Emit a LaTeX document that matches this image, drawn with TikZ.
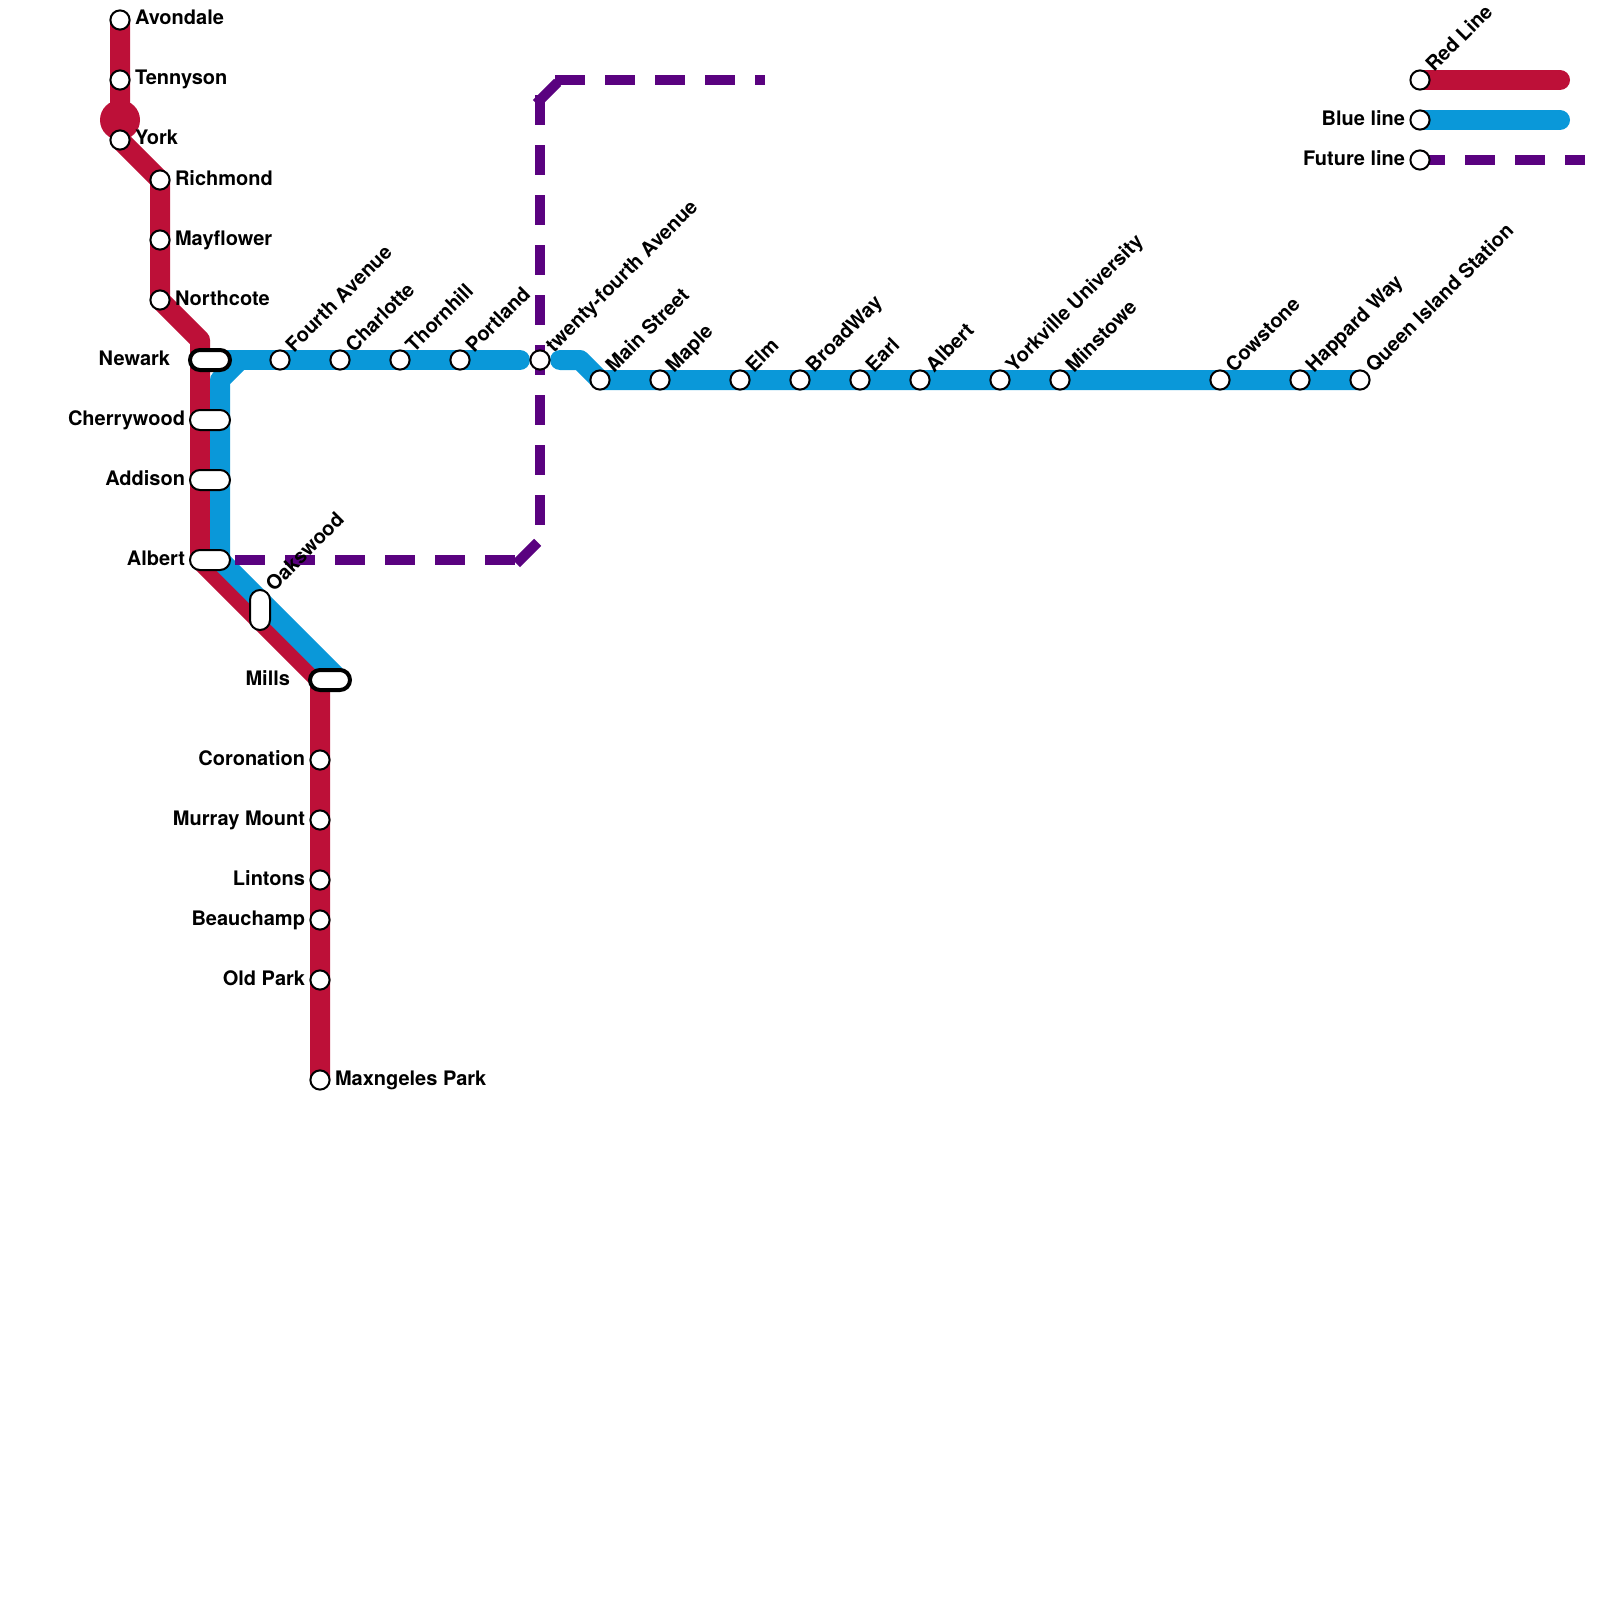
\documentclass[tikz,border=0pt]{standalone}
\usepackage{fontspec}
\setmainfont{TeX Gyre Heros}
\usetikzlibrary{backgrounds}
\definecolor{redline}{HTML}{BD1038}
\definecolor{blueline}{HTML}{0A98D9}
\definecolor{futureline}{HTML}{5A0280}
\tikzset{
  x=1pt,y=-1pt,
  stn/.style={circle,draw=black,fill=white,line width=2pt,minimum size=19.2pt,inner sep=0pt},
  hub/.style={rectangle,rounded corners=10pt,draw=black,fill=white,line width=2pt,minimum width=40pt,minimum height=20pt,inner sep=0pt},
  hubthick/.style={hub,line width=4pt},
  hubv/.style={rectangle,rounded corners=10pt,draw=black,fill=white,line width=2pt,minimum width=20pt,minimum height=40pt,inner sep=0pt},
  lbl/.style={inner sep=0pt,outer sep=0pt,font=\fontsize{20pt}{21pt}\selectfont\bfseries,text=black},
  lr/.style={lbl,anchor=base west},
  ll/.style={lbl,anchor=base east},
  ld/.style={lbl,anchor=base west,rotate=45},
  redl/.style={draw=redline,line width=20pt,line join=round},
  bluel/.style={draw=blueline,line width=20pt,line join=round},
  futl/.style={draw=futureline,line width=10pt,line cap=rect,dash pattern=on 20pt off 30pt},
}
\begin{document}
\begin{tikzpicture}
\useasboundingbox (0,0) rectangle (1600,1600);
% stations
\node[stn] (avondale) at (120,20) {};
\node[lr] (tavondale) at (135,25) {Avondale};
\node[stn] (tennyson) at (120,80) {};
\node[lr] (ttennyson) at (135,85) {Tennyson};
\node[stn] (york) at (120,140) {};
\node[lr] (tyork) at (135,145) {York};
\node[stn] (richmond) at (160,180) {};
\node[lr] (trichmond) at (175,185) {Richmond};
\node[stn] (mayflower) at (160,240) {};
\node[lr] (tmayflower) at (175,245) {Mayflower};
\node[stn] (northcote) at (160,300) {};
\node[lr] (tnorthcote) at (175,305) {Northcote};
\node[hubthick] (newark) at (210,360) {};
\node[ll] (tnewark) at (170,365) {Newark};
\node[hub] (cherrywood) at (210,420) {};
\node[ll] (tcherrywood) at (185,425) {Cherrywood};
\node[hub] (addison) at (210,480) {};
\node[ll] (taddison) at (185,485) {Addison};
\node[hub] (albertw) at (210,560) {};
\node[ll] (talbertw) at (185,565) {Albert};
\node[hubv] (oakswood) at (260,610) {};
\node[ld] (toakswood) at (274,592) {Oakswood};
\node[hubthick] (mills) at (330,680) {};
\node[ll] (tmills) at (290,685) {Mills};
\node[stn] (coronation) at (320,760) {};
\node[ll] (tcoronation) at (305,765) {Coronation};
\node[stn] (murray) at (320,820) {};
\node[ll] (tmurray) at (305,825) {Murray Mount};
\node[stn] (lintons) at (320,880) {};
\node[ll] (tlintons) at (305,885) {Lintons};
\node[stn] (beauchamp) at (320,920) {};
\node[ll] (tbeauchamp) at (305,925) {Beauchamp};
\node[stn] (oldpark) at (320,980) {};
\node[ll] (toldpark) at (305,985) {Old Park};
\node[stn] (maxngeles) at (320,1080) {};
\node[lr] (tmaxngeles) at (335,1085) {Maxngeles Park};
\foreach \n/\x/\y/\t in {fourth/280/360/Fourth Avenue,charlotte/340/360/Charlotte,thornhill/400/360/Thornhill,portland/460/360/Portland,twentyfourth/540/360/twenty-fourth Avenue,mainst/600/380/Main Street,maple/660/380/Maple,elm/740/380/Elm,broadway/800/380/BroadWay,earl/860/380/Earl,alberte/920/380/Albert,yorkville/1000/380/Yorkville University,minstowe/1060/380/Minstowe,cowstone/1220/380/Cowstone,happard/1300/380/Happard Way,queen/1360/380/Queen Island Station,legred/1420/80/Red Line}{
  \node[stn] (\n) at (\x,\y) {};
  \node[ld] (t\n) at (\x+14,\y-7) {\t};
}
\node[stn] (legblue) at (1420,120) {};
\node[ll] (tlegblue) at (1405,125) {Blue line};
\node[stn] (legfut) at (1420,160) {};
\node[ll] (tlegfut) at (1405,165) {Future line};
% bends
\coordinate (r1) at (200,340);
\coordinate (r2) at (200,560);
\coordinate (r3) at (320,680);
\coordinate (b1) at (240,360);
\coordinate (b2) at (220,380);
\coordinate (b3) at (220,560);
\coordinate (b4) at (340,680);
\coordinate (b5) at (220,360);
\coordinate (b6) at (520,360);
\coordinate (b7) at (560,360);
\coordinate (b8) at (580,360);
\coordinate (f1) at (240,560);
\coordinate (f2) at (520,560);
\coordinate (f3) at (540,540);
\coordinate (f4) at (540,100);
\coordinate (f5) at (560,80);
\coordinate (f6) at (760,80);
\coordinate (lr1) at (1560,80);
\coordinate (lb1) at (1560,120);
\coordinate (lf1) at (1580,160);
\begin{scope}[on background layer]
\fill[redline] (120,120) circle (20pt);
\path[redl] (avondale.center) -- (tennyson.center) -- (york.center) -- (richmond.center) -- (mayflower.center) -- (northcote.center) -- (r1) -- (r2) -- (r3) -- (coronation.center) -- (murray.center) -- (lintons.center) -- (beauchamp.center) -- (oldpark.center) -- (maxngeles.center);
\path[bluel] (b1) -- (b2) -- (b3) -- (b4);
\path[bluel,line cap=round] (b5) -- (fourth.center) -- (charlotte.center) -- (thornhill.center) -- (portland.center) -- (b6);
\path[bluel,line cap=round] (b7) -- (b8) -- (mainst.center) -- (queen.center);
\path[futl] (f1) -- (f2);
\path[futl] (f2) -- (f3);
\path[futl] (f4) -- (f3);
\path[futl] (f4) -- (f5);
\path[futl] (f5) -- (f6);
\path[redl,line cap=round] (legred.center) -- (lr1);
\path[bluel,line cap=round] (legblue.center) -- (lb1);
\path[futl] (legfut.center) -- (lf1);
\end{scope}
\end{tikzpicture}
\end{document}
